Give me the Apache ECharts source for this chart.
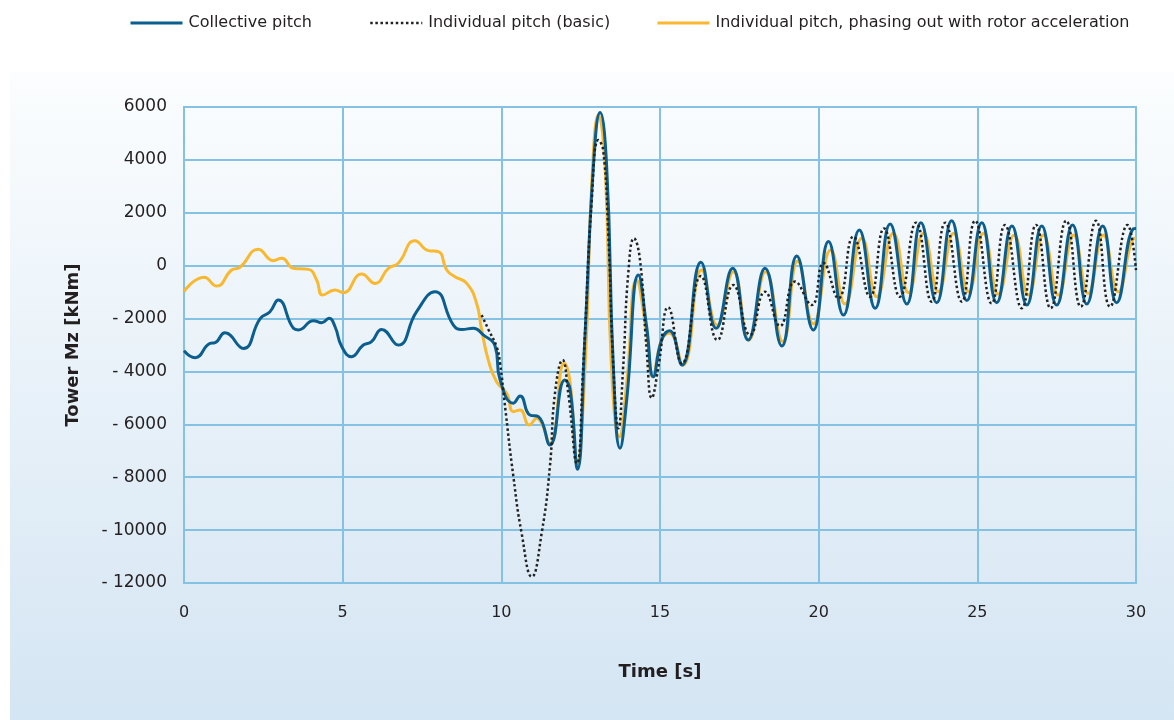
<!DOCTYPE html>
<html><head><meta charset="utf-8">
<script src="https://cdn.jsdelivr.net/npm/echarts@6/dist/echarts.min.js"></script>
<style>html,body{margin:0;padding:0;background:#fff}#c{width:1174px;height:720px}</style>
</head><body><div id="c"></div>
<script>
const seriesNames = ['Collective pitch', 'Individual pitch (basic)', 'Individual pitch, phasing out with rotor acceleration'];
const xTicks = [0, 5, 10, 15, 20, 25, 30];
const yTicks = [-12000, -10000, -8000, -6000, -4000, -2000, 0, 2000, 4000, 6000];

// [time s, Mz kNm]
const collective = [[0,-3215],[0.35,-3480],[0.82,-2940],[0.98,-2910],[1.29,-2540],[1.87,-3130],[2.4,-2000],[2.71,-1740],[2.97,-1300],[3.45,-2370],[3.6,-2430],[4.08,-2080],[4.34,-2160],[4.57,-1990],[4.76,-2310],[4.97,-3060],[5.28,-3440],[5.65,-3000],[5.91,-2875],[6.23,-2410],[6.75,-3000],[7.33,-1740],[7.91,-985],[8.49,-2245],[8.75,-2410],[9.12,-2370],[9.43,-2620],[9.8,-3030],[9.96,-4320],[10.38,-5200],[10.59,-4930],[10.9,-5650],[11.17,-5710],[11.53,-6780],[12.0,-4320],[12.17,-4700],[12.4,-7700],[12.64,-2560],[12.9,3740],[13.11,5790],[13.32,3740],[13.53,-3820],[13.74,-6900],[13.95,-5080],[14.32,-350],[14.58,-2310],[14.79,-4200],[15.05,-2810],[15.3,-2460],[15.69,-3760],[16.29,130],[16.77,-2370],[17.29,-100],[17.78,-2810],[18.31,-100],[18.84,-3040],[19.31,370],[19.83,-2430],[20.31,910],[20.78,-1870],[21.28,1350],[21.78,-1610],[22.25,1580],[22.78,-1450],[23.22,1625],[23.72,-1400],[24.19,1700],[24.67,-1320],[25.14,1625],[25.61,-1400],[26.09,1500],[26.56,-1490],[27.03,1500],[27.5,-1490],[28.0,1540],[28.45,-1450],[28.95,1500],[29.39,-1400],[29.92,1400],[30,1410]];

const basic = [[9.38,-1870],[9.6,-2430],[9.85,-3060],[9.96,-3700],[10.1,-5150],[10.38,-7980],[10.64,-10120],[10.96,-11760],[11.27,-10120],[11.53,-7600],[11.69,-4830],[11.93,-3570],[12.11,-4830],[12.38,-7480],[12.58,-3820],[12.85,2480],[13.06,4750],[13.21,4370],[13.37,1225],[13.53,-3820],[13.69,-6150],[13.84,-3820],[14.0,-290],[14.18,1035],[14.37,215],[14.58,-3190],[14.74,-5000],[14.95,-3820],[15.26,-1575],[15.69,-3700],[16.29,-390],[16.81,-2810],[17.31,-730],[17.84,-2620],[18.31,-985],[18.78,-2280],[19.26,-600],[19.78,-1490],[20.15,100],[20.62,-1235],[21.09,1100],[21.62,-1175],[22.06,1410],[22.56,-1175],[23.07,1625],[23.56,-1360],[23.99,1625],[24.51,-1360],[24.93,1700],[25.45,-1425],[25.87,1540],[26.4,-1610],[26.85,1540],[27.31,-1610],[27.8,1700],[28.26,-1550],[28.74,1700],[29.18,-1550],[29.73,1540],[30,-165]];

const phasing = [[0,-980],[0.63,-440],[1.03,-770],[1.5,-165],[1.76,-65],[2.34,620],[2.81,190],[3.08,280],[3.45,-100],[3.92,-140],[4.18,-540],[4.37,-1110],[4.76,-920],[5.02,-1020],[5.6,-315],[6.02,-670],[6.44,-100],[6.75,90],[7.28,945],[7.7,570],[8.02,530],[8.28,-165],[8.54,-415],[8.91,-670],[9.22,-1420],[9.38,-2430],[9.59,-3570],[9.85,-4390],[10.17,-4830],[10.38,-5520],[10.59,-5460],[10.88,-6025],[11.11,-5770],[11.53,-6720],[11.98,-3690],[12.17,-4450],[12.38,-7480],[12.64,-3820],[12.85,3115],[13.06,5700],[13.27,3740],[13.47,-3820],[13.72,-6470],[13.95,-4450],[14.26,-540],[14.58,-2560],[14.77,-4200],[15.05,-2810],[15.3,-2560],[15.72,-3760],[16.31,-165],[16.8,-2245],[17.31,-230],[17.8,-2810],[18.33,-230],[18.87,-2875],[19.34,175],[19.83,-2200],[20.38,590],[20.83,-1450],[21.36,1035],[21.83,-1175],[22.35,1225],[22.83,-1020],[23.3,1225],[23.77,-985],[24.25,1225],[24.72,-985],[25.19,1225],[25.66,-1070],[26.16,1160],[26.61,-1110],[27.08,1160],[27.55,-1110],[28.03,1160],[28.49,-1050],[28.97,1160],[29.44,-985],[29.95,1035],[30,1040]];

const FONT = 'DejaVu Sans';
const TXT = '#231f20';
const GRIDC = '#84c1e3';
const chart = echarts.init(document.getElementById('c'), null, {renderer: 'canvas'});
const legendBase = {top: 10, itemWidth: 52, itemHeight: 14, itemStyle: {opacity: 0},
  textStyle: {fontFamily: FONT, fontSize: 16, color: TXT, padding: [0,0,0,1]}};
chart.setOption({
  animation: false,
  backgroundColor: '#ffffff',
  graphic: [{
    type: 'rect', left: 10, top: 72, z: -10, silent: true,
    shape: {width: 1164, height: 648},
    style: {fill: new echarts.graphic.LinearGradient(0, 0, 0, 1, [
      {offset: 0, color: '#fbfdfe'}, {offset: 1, color: '#d4e5f3'}])}
  }],
  legend: [
    Object.assign({}, legendBase, {left: 124, data: [seriesNames[0]], lineStyle: {width: 3}}),
    Object.assign({}, legendBase, {left: 364, data: [seriesNames[1]], lineStyle: {width: 2.5}}),
    Object.assign({}, legendBase, {left: 651, data: [seriesNames[2]], lineStyle: {width: 3}})
  ],
  grid: {left: 184, right: 38, top: 107, bottom: 137, show: true, borderColor: GRIDC, borderWidth: 2, backgroundColor: 'transparent'},
  xAxis: {
    type: 'value', min: xTicks[0], max: xTicks[xTicks.length-1], interval: 5,
    name: 'Time [s]', nameLocation: 'middle', nameGap: 80,
    nameTextStyle: {fontFamily: FONT, fontSize: 18, fontWeight: 'bold', color: TXT},
    axisLine: {show: true, lineStyle: {color: GRIDC, width: 2}},
    axisTick: {show: false},
    axisLabel: {fontFamily: FONT, fontSize: 16, color: TXT, margin: 22},
    splitLine: {show: true, lineStyle: {color: GRIDC, width: 2}}
  },
  yAxis: {
    type: 'value', min: yTicks[0], max: yTicks[yTicks.length-1], interval: 2000,
    name: 'Tower Mz [kNm]', nameLocation: 'middle', nameGap: 102,
    nameTextStyle: {fontFamily: FONT, fontSize: 18, fontWeight: 'bold', color: TXT},
    axisLine: {show: true, lineStyle: {color: GRIDC, width: 2}},
    axisTick: {show: false},
    axisLabel: {fontFamily: FONT, fontSize: 17, color: TXT, margin: 17,
      formatter: v => v < 0 ? '- ' + Math.abs(v) : String(v)},
    splitLine: {show: true, lineStyle: {color: GRIDC, width: 2}}
  },
  series: [
    {name: seriesNames[0], type: 'line', data: collective, smooth: 0.5, symbol: 'none', z: 3,
      lineStyle: {color: '#0b5e8e', width: 3}, itemStyle: {color: '#0b5e8e'}},
    {name: seriesNames[1], type: 'line', data: basic, smooth: 0.5, symbol: 'none', z: 4,
      lineStyle: {color: '#222222', width: 2.5, type: [2.5, 2.6]}, itemStyle: {color: '#222222'}},
    {name: seriesNames[2], type: 'line', data: phasing, smooth: 0.5, symbol: 'none', z: 2,
      lineStyle: {color: '#f8b830', width: 3}, itemStyle: {color: '#f8b830'}}
  ]
});
</script></body></html>
